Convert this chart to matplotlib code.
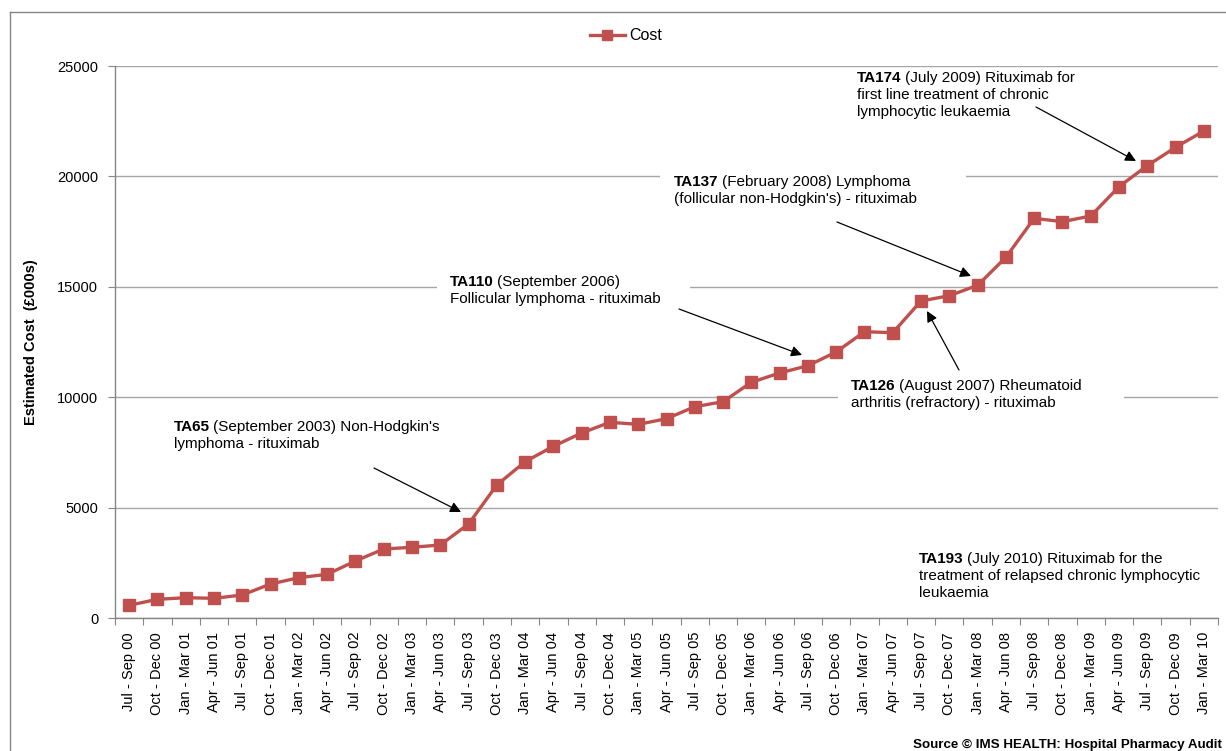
import matplotlib
matplotlib.use("Agg")
import matplotlib.pyplot as plt
from matplotlib.lines import Line2D
from matplotlib.patches import Rectangle
from matplotlib.offsetbox import TextArea, HPacker, VPacker, AnnotationBbox

plt.rcParams['font.family'] = ['Liberation Sans', 'DejaVu Sans']

quarters = ["Jul - Sep 00", "Oct - Dec 00", "Jan - Mar 01", "Apr - Jun 01", "Jul - Sep 01",
            "Oct - Dec 01", "Jan - Mar 02", "Apr - Jun 02", "Jul - Sep 02", "Oct - Dec 02",
            "Jan - Mar 03", "Apr - Jun 03", "Jul - Sep 03", "Oct - Dec 03", "Jan - Mar 04",
            "Apr - Jun 04", "Jul - Sep 04", "Oct - Dec 04", "Jan - Mar 05", "Apr - Jun 05",
            "Jul - Sep 05", "Oct - Dec 05", "Jan - Mar 06", "Apr - Jun 06", "Jul - Sep 06",
            "Oct - Dec 06", "Jan - Mar 07", "Apr - Jun 07", "Jul - Sep 07", "Oct - Dec 07",
            "Jan - Mar 08", "Apr - Jun 08", "Jul - Sep 08", "Oct - Dec 08", "Jan - Mar 09",
            "Apr - Jun 09", "Jul - Sep 09", "Oct - Dec 09", "Jan - Mar 10"]
cost = [575, 847, 919, 892, 1042, 1540, 1825, 1979, 2581, 3125,
        3202, 3306, 4257, 6024, 7079, 7776, 8379, 8863, 8770, 9026,
        9570, 9796, 10675, 11096, 11427, 12047, 12967, 12922, 14357, 14597,
        15067, 16335, 18102, 17949, 18207, 19535, 20487, 21317, 22056]
yticks = [0, 5000, 10000, 15000, 20000, 25000]

W, H = 1226, 751
fig = plt.figure(figsize=(W / 100, H / 100), dpi=100)


def P(x, y):
    return (x / W, 1 - y / H)


L, R, T, B = 115, 1218, 66, 618
ax = fig.add_axes([L / W, 1 - B / H, (R - L) / W, (B - T) / H])

RED = '#C0504D'
GRID = '#A6A6A6'
AXC = '#868686'

x = list(range(len(cost)))
ax.plot(x, cost, color=RED, lw=2.4, marker='s', markersize=8.5,
        markerfacecolor=RED, markeredgecolor=RED, zorder=4, label='Cost')

ax.set_xlim(-0.5, len(cost) - 0.5)
ax.set_ylim(0, 25000)
ax.set_yticks(yticks)
ax.set_yticklabels([str(v) for v in yticks], fontsize=10.5)
ax.yaxis.grid(True, color=GRID, lw=1.0)
ax.set_axisbelow(True)

ax.set_xticks([i - 0.5 for i in range(len(cost) + 1)])
ax.set_xticklabels([])
ax.set_xticks(x, minor=True)
ax.set_xticklabels(quarters, minor=True, rotation=90, fontsize=10.5)
ax.tick_params(axis='x', which='major', length=5, color=AXC, direction='out')
ax.tick_params(axis='x', which='minor', length=0, pad=10)
ax.tick_params(axis='y', length=5, color=AXC, direction='out', pad=7)

for s in ['top', 'right']:
    ax.spines[s].set_visible(False)
for s in ['left', 'bottom']:
    ax.spines[s].set_color(AXC)
    ax.spines[s].set_linewidth(1.0)

ax.set_ylabel('Estimated Cost  (£000s)', fontsize=10.5, fontweight='bold', labelpad=14)

# legend
ax.legend(loc='center', bbox_to_anchor=(P(626, 36)[0], P(626, 36)[1]),
          bbox_transform=fig.transFigure, frameon=False, fontsize=11.5,
          handlelength=2.2, handletextpad=0.3, markerscale=0.9)

# outer frame (top and left edges)
fig.add_artist(Line2D([10 / W, 1], [1 - 12 / H] * 2, color=AXC, lw=1.0))
fig.add_artist(Line2D([10 / W, 10 / W], [0, 1 - 12 / H], color=AXC, lw=1.0))

# white text-box backgrounds that hide gridlines
for (x0, y0, x1, y1) in [(437, 272, 690, 308), (660, 170, 966, 212), (838, 376, 1124, 414)]:
    ax.add_patch(Rectangle(P(x0, y1), (x1 - x0) / W, (y1 - y0) / H, transform=fig.transFigure,
                           facecolor='white', edgecolor='none', zorder=2, clip_on=False))

FS = 11


def note(bold, first, others, x, y):
    props = dict(fontsize=FS, color='black')
    l1 = HPacker(children=[TextArea(bold, textprops=dict(props, fontweight='bold')),
                           TextArea(first, textprops=props)], pad=0, sep=2.5, align='baseline')
    lines = [l1] + [TextArea(t, textprops=props) for t in others]
    box = VPacker(children=lines, pad=0, sep=2.0, align='left')
    ab = AnnotationBbox(box, P(x, y), xycoords='figure fraction', box_alignment=(0, 1),
                        frameon=False, pad=0, zorder=5)
    fig.add_artist(ab)


def arrow(tail, head):
    ax.annotate('', xy=P(*head), xycoords='figure fraction', xytext=P(*tail),
                textcoords='figure fraction',
                arrowprops=dict(arrowstyle='-|>', color='black', lw=0.9, mutation_scale=16,
                                shrinkA=0, shrinkB=0), zorder=6, annotation_clip=False)


note('TA65', "(September 2003) Non-Hodgkin's", ['lymphoma - rituximab'], 174, 420)
arrow((374, 468), (461, 512))
note('TA110', '(September 2006)', ['Follicular lymphoma - rituximab'], 450, 275)
arrow((679, 309), (802, 355))
note('TA137', '(February 2008) Lymphoma', ["(follicular non-Hodgkin's) - rituximab"], 674, 175)
arrow((837, 222), (971, 276))
note('TA126', '(August 2007) Rheumatoid', ['arthritis (refractory) - rituximab'], 851, 379)
arrow((959, 370), (927, 311))
note('TA174', '(July 2009) Rituximab for',
     ['first line treatment of chronic', 'lymphocytic leukaemia'], 857, 71)
arrow((1036, 107), (1136, 161))
note('TA193', '(July 2010) Rituximab for the',
     ['treatment of relapsed chronic lymphocytic', 'leukaemia'], 919, 552)

fig.text(*P(1222, 745), 'Source © IMS HEALTH: Hospital Pharmacy Audit', ha='right', va='center',
         fontsize=9.6, fontweight='bold')

fig.savefig('out.png', dpi=100)
